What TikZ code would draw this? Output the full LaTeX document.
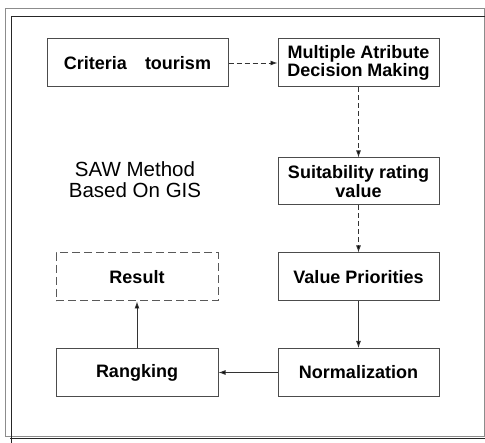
\documentclass[tikz,border=0pt]{standalone}
\usepackage{fontspec}
\setmainfont{Liberation Sans}
\usetikzlibrary{positioning,arrows.meta}

\begin{document}
\begin{tikzpicture}[x=1pt, y=1pt, node distance=95.5pt, on grid,
  stepbox/.style={draw=black!70, line width=1pt, minimum width=161pt, minimum height=48pt,
    align=center, font=\fontsize{18}{18.5}\selectfont\bfseries},
  flow/.style={-{Latex[length=7pt,width=5pt]}, line width=0.9pt, draw=black!80},
  dashflow/.style={flow, dash pattern=on 5pt off 3pt}]
\useasboundingbox (0,0) rectangle (485,-443);
% frame
\draw[black!45, line width=1pt] (5,-9) rectangle (484,-437);
\draw[black!85, line width=1pt] (485,-17) -- (11,-17) -- (11,-443);
\draw[black!85, line width=1pt] (10,-439) -- (485,-439);
% boxes
\node [stepbox, minimum width=181pt] (crit) at (137.5,-63) {Criteria\quad tourism};
\node [stepbox] (madm) [right=221pt of crit] {Multiple Atribute\\Decision Making};
\node [stepbox, minimum height=47pt] (suit) [below=118.5pt of madm] {Suitability rating\\value};
\node [stepbox] (prio) [below=of suit] {Value Priorities};
\node [stepbox] (norm) [below=of prio] {Normalization};
\node [stepbox, minimum width=162pt] (rank) [left=221.5pt of norm] {Rangking};
\node [stepbox, minimum width=162pt, draw=black!65, dash pattern=on 8pt off 4pt] (res) [above=of rank] {Result};
\node [align=center, font=\fontsize{20.5}{21}\selectfont] (saw) at (135,-180) {SAW Method\\Based On GIS};
% connectors
\path [dashflow]
(crit) edge (madm)
(madm) edge (suit)
(suit) edge (prio);
\path [flow]
(prio) edge (norm)
(norm) edge (rank)
(rank) edge (res);
\end{tikzpicture}
\end{document}
